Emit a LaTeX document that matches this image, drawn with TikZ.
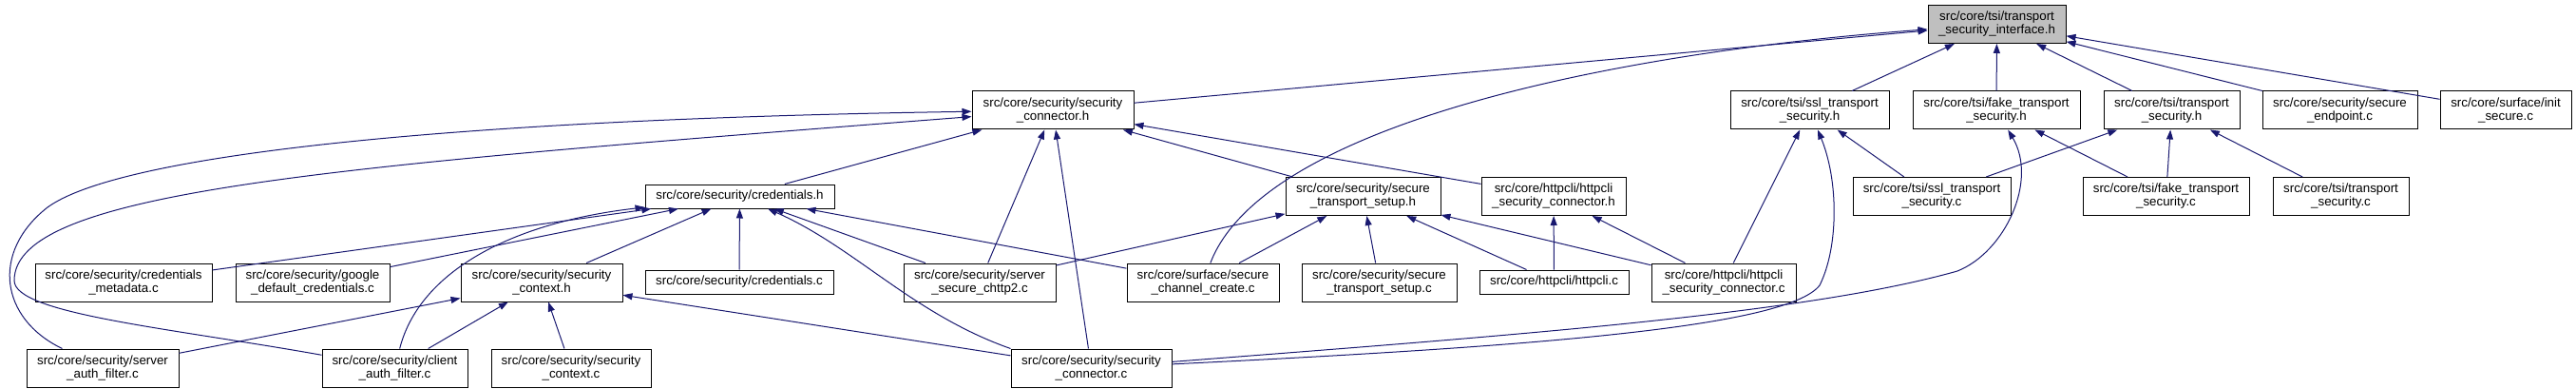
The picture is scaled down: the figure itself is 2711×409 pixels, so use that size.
\documentclass[tikz,border=0pt]{standalone}
\usepackage{fontspec}
\setmainfont{Liberation Sans}
\usepackage{tikz}
\definecolor{edgeblue}{RGB}{25, 25, 112}
\definecolor{tsigray}{RGB}{191, 191, 191}
\usetikzlibrary{arrows.meta}

\begin{document}
\begin{tikzpicture}[x=1pt, y=-1pt,
			file/.style={draw=black, fill=white, line width=1pt, align=center, inner xsep=2pt, inner ysep=0pt, minimum height=40pt},
			single/.style={file, minimum height=25pt},
			dep/.style={draw=edgeblue, line width=1pt, -{Triangle[length=10pt, width=7pt]}},
			font=\fontsize{13.33pt}{14pt}\selectfont]
			%Bildbereich
			\useasboundingbox (0,0) rectangle (2711,409);
			% Kopfdatei
			\node[file, fill=tsigray, minimum width=145pt] (tsi) at (2101.5,25.5) {src/core/tsi/transport\\\_security\_interface.h};
			% Ebene 1
			\node[file, minimum width=170pt] (sch) at (1108,116) {src/core/security/security\\\_connector.h};
			\node[file, minimum width=167pt] (sslh) at (1904.5,116) {src/core/tsi/ssl\_transport\\\_security.h};
			\node[file, minimum width=176pt] (fakeh) at (2101,116) {src/core/tsi/fake\_transport\\\_security.h};
			\node[file, minimum width=143pt] (tsh) at (2285.5,116) {src/core/tsi/transport\\\_security.h};
			\node[file, minimum width=163pt] (sepc) at (2462.5,116) {src/core/security/secure\\\_endpoint.c};
			\node[file, minimum width=138pt] (initc) at (2637,116) {src/core/surface/init\\\_secure.c};
			% Ebene 2
			\node[single, minimum width=199pt] (credh) at (778.5,206.5) {src/core/security/credentials.h};
			\node[file, minimum width=163pt] (stsh) at (1434.5,206.5) {src/core/security/secure\\\_transport\_setup.h};
			\node[file, minimum width=152pt] (hsch) at (1635,206.5) {src/core/httpcli/httpcli\\\_security\_connector.h};
			\node[file, minimum width=166pt] (sslc) at (2033,206.5) {src/core/tsi/ssl\_transport\\\_security.c};
			\node[file, minimum width=175pt] (fakec) at (2279.5,206.5) {src/core/tsi/fake\_transport\\\_security.c};
			\node[file, minimum width=143pt] (tsc) at (2463.5,206.5) {src/core/tsi/transport\\\_security.c};
			% Ebene 3
			\node[file, minimum width=186pt] (cmd) at (130,297) {src/core/security/credentials\\\_metadata.c};
			\node[file, minimum width=162pt] (gdc) at (329,297) {src/core/security/google\\\_default\_credentials.c};
			\node[file, minimum width=170pt] (sctxh) at (570,297) {src/core/security/security\\\_context.h};
			\node[single, minimum width=198pt] (credc) at (778,296.5) {src/core/security/credentials.c};
			\node[file, minimum width=160pt] (ssc2) at (1031,297) {src/core/security/server\\\_secure\_chttp2.c};
			\node[file, minimum width=160pt] (scc) at (1266,297) {src/core/surface/secure\\\_channel\_create.c};
			\node[file, minimum width=163pt] (stsc) at (1451.5,297) {src/core/security/secure\\\_transport\_setup.c};
			\node[single, minimum width=157pt] (hcli) at (1635.5,296.5) {src/core/httpcli/httpcli.c};
			\node[file, minimum width=152pt] (hscc) at (1814,297) {src/core/httpcli/httpcli\\\_security\_connector.c};
			% Ebene 4
			\node[file, minimum width=160pt] (saf) at (108,387) {src/core/security/server\\\_auth\_filter.c};
			\node[file, minimum width=153pt] (caf) at (415.5,387) {src/core/security/client\\\_auth\_filter.c};
			\node[file, minimum width=168pt] (sctxc) at (601,387) {src/core/security/security\\\_context.c};
			\node[file, minimum width=169pt] (sconc) at (1148.5,387) {src/core/security/security\\\_connector.c};
			% gerade Abhaengigkeiten
			\foreach \a/\b in {sch/tsi, sslh/tsi, fakeh/tsi, tsh/tsi, sepc/tsi, initc/tsi,
				credh/sch, ssc2/sch, sconc/sch, stsh/sch, hsch/sch,
				cmd/credh, gdc/credh, sctxh/credh, credc/credh, ssc2/credh, scc/credh,
				saf/sctxh, caf/sctxh, sctxc/sctxh, sconc/sctxh,
				ssc2/stsh, scc/stsh, stsc/stsh, hcli/stsh, hscc/stsh,
				hcli/hsch, hscc/hsch, hscc/sslh, sslc/sslh, fakec/fakeh,
				sslc/tsh, fakec/tsh, tsc/tsh}
				\draw[dep] (\a) -- (\b);
			% gebogene Abhaengigkeiten
			\draw[dep] (scc) .. controls (1330,130) and (1700,55) .. (tsi);
			\draw[dep] (saf) .. controls (0,335) and (-10,265) .. (50,218) .. controls (130,160) and (500,125) .. (sch);
			\draw[dep] (caf) .. controls (180,345) and (15,330) .. (15,295) .. controls (15,200) and (350,175) .. (sch);
			\draw[dep] (caf) .. controls (440,290) and (530,235) .. (credh);
			\draw[dep] (sconc.north west) .. controls (960,330) and (900,260) .. (credh);
			\draw[dep] (sconc) .. controls (1600,365) and (1880,345) .. (1915,300) .. controls (1935,260) and (1935,190) .. (sslh);
			\draw[dep] (sconc) .. controls (1600,352) and (1900,330) .. (2060,285) .. controls (2110,265) and (2145,190) .. (fakeh);
		\end{tikzpicture}
\end{document}
